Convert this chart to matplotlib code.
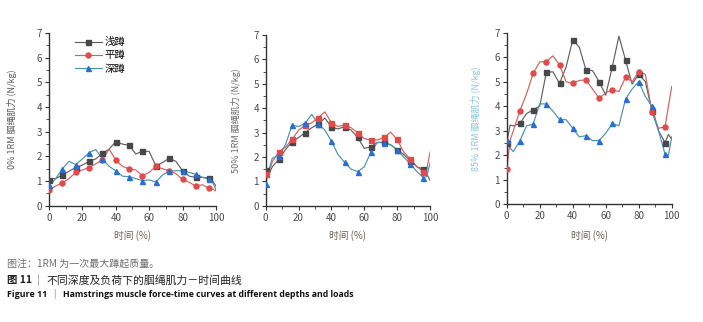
import numpy as np
import matplotlib
matplotlib.use("Agg")
from matplotlib import pyplot as plt
from matplotlib.ticker import MultipleLocator
from matplotlib.lines import Line2D

plt.rcParams['font.family'] = ['Noto Sans CJK SC', 'DejaVu Sans']

# Dados ----------------------------->>>>>
tempo = [0, 2, 4, 8, 12, 16, 20, 24, 28, 32, 36, 40, 44, 48, 52, 56, 60,
         64, 68, 72, 76, 80, 84, 88, 92, 96, 98, 100]
marcas = [0, 8, 16, 24, 32, 40, 48, 56, 64, 72, 80, 88, 96]

rotulos = ['浅蹲', '平蹲', '深蹲']
ylabels = ['0% 1RM 腘绳肌力 (N/kg)', '50% 1RM 腘绳肌力 (N/kg)', '85% 1RM 腘绳肌力 (N/kg)']

# 0% 1RM
raso_0 = [1.05, 1.1, 1.1, 1.25, 1.4, 1.55, 1.65, 1.8, 1.9, 2.12, 2.3, 2.6, 2.5, 2.45,
          2.1, 2.22, 2.2, 1.62, 1.75, 1.93, 1.8, 1.42, 1.2, 1.15, 1.15, 1.12, 1.0, 0.8]
paralelo_0 = [0.65, 0.72, 0.8, 0.93, 1.1, 1.35, 1.45, 1.55, 1.7, 1.85, 2.3, 1.85, 1.6, 1.5,
              1.45, 1.22, 1.35, 1.6, 1.5, 1.42, 1.3, 1.07, 0.95, 0.8, 0.85, 0.7, 0.68, 0.6]
profundo_0 = [0.85, 0.95, 1.1, 1.5, 1.8, 1.67, 1.9, 2.15, 2.28, 1.9, 1.6, 1.42, 1.2, 1.18,
              1.1, 1.02, 1.05, 0.96, 1.25, 1.4, 1.42, 1.42, 1.35, 1.28, 1.15, 1.08, 0.95, 0.65]

# 50% 1RM
raso_50 = [1.46, 1.3, 1.6, 1.9, 2.3, 2.62, 2.8, 3.0, 3.2, 3.35, 3.6, 3.22, 3.15, 3.25,
           3.1, 2.8, 2.35, 2.42, 2.6, 2.6, 2.5, 2.3, 2.1, 1.85, 1.6, 1.5, 1.3, 1.05]
paralelo_50 = [1.3, 1.4, 1.8, 2.22, 2.4, 2.72, 3.1, 3.3, 3.4, 3.62, 3.85, 3.4, 3.25, 3.32,
               3.2, 3.0, 2.75, 2.7, 2.7, 2.8, 3.02, 2.72, 2.2, 1.92, 1.6, 1.4, 1.5, 2.2]
profundo_50 = [0.9, 1.5, 1.95, 2.05, 2.5, 3.3, 3.25, 3.38, 3.75, 3.35, 3.1, 2.65, 2.1, 1.78,
               1.5, 1.4, 1.6, 2.2, 2.6, 2.58, 2.5, 2.3, 2.0, 1.72, 1.4, 1.15, 1.2, 1.75]

# 85% 1RM
raso_85 = [2.49, 3.23, 3.2, 3.3, 3.7, 3.85, 4.0, 5.38, 5.4, 4.93, 5.6, 6.7, 6.4, 5.48,
           5.45, 5.0, 4.45, 5.61, 6.85, 5.88, 4.9, 5.3, 5.0, 3.82, 3.0, 2.52, 2.85, 2.65]
paralelo_85 = [1.43, 2.6, 3.0, 3.82, 4.5, 5.34, 5.8, 5.82, 6.05, 5.68, 5.0, 4.93, 5.05, 5.07,
               4.7, 4.32, 4.55, 4.66, 4.6, 5.17, 5.0, 5.41, 5.3, 3.78, 3.1, 3.17, 4.0, 4.8]
profundo_85 = [2.62, 2.3, 2.15, 2.6, 3.2, 3.27, 4.1, 4.09, 3.8, 3.46, 3.45, 3.1, 2.75, 2.8,
               2.6, 2.6, 2.9, 3.3, 3.2, 4.29, 4.7, 5.0, 4.4, 4.0, 3.0, 2.04, 2.0, 2.75]

paineis = [
    (raso_0, paralelo_0, profundo_0),
    (raso_50, paralelo_50, profundo_50),
    (raso_85, paralelo_85, profundo_85),
]

# Estilos ----------------------------->>>>>
cor_linha = ['#606060', '#d06060', '#4a92ae']
cor_marca = ['#484848', '#e04a4a', '#2a6fcf']
formas = [['s', 'o', '^'], ['s', 's', '^'], ['s', 'o', '^']]
cor_tick = '#4a4a55'
cor_ylabel = ['#5a5a5a', '#6a6a6a', '#8cc4e0']

posicoes = [
    [0.0697, 0.361, 0.2375, 0.536],
    [0.378, 0.361, 0.2337, 0.530],
    [0.7208, 0.365, 0.2347, 0.534],
]
xlabel_x = [0.0697 + 0.2375 / 2, 0.378 + 0.2337 / 2, 0.7208 + 0.2347 / 2]
ylabel_x = [0.017, 0.335, 0.677]

fig = plt.figure(figsize=(7.03, 3.22), dpi=100)
idx_marcas = [tempo.index(m) for m in marcas]

for i, (series, pos) in enumerate(zip(paineis, posicoes)):
    ax = fig.add_axes(pos)
    for j, y in enumerate(series):
        ax.plot(tempo, y, color=cor_linha[j], lw=0.85, zorder=2)
        ax.plot([tempo[k] for k in idx_marcas], [y[k] for k in idx_marcas],
                ls='none', marker=formas[i][j], ms=3.6, color=cor_marca[j], zorder=3)
    ax.set_xlim(0, 100)
    ax.set_ylim(0, 7)
    ax.xaxis.set_major_locator(MultipleLocator(20))
    ax.xaxis.set_minor_locator(MultipleLocator(10))
    ax.yaxis.set_major_locator(MultipleLocator(1))
    ax.yaxis.set_minor_locator(MultipleLocator(0.5))
    for s in ['top', 'right']:
        ax.spines[s].set_visible(False)
    for s in ['left', 'bottom']:
        ax.spines[s].set_color('#333333')
        ax.spines[s].set_linewidth(1.0)
    ax.tick_params(which='major', direction='out', length=3, width=0.8,
                   colors='#333333', labelcolor=cor_tick, labelsize=7, pad=2)
    ax.tick_params(which='minor', direction='out', length=2, width=0.6, colors='#333333')
    fig.text(ylabel_x[i], pos[1] + pos[3] / 2, ylabels[i], rotation=90,
             ha='center', va='center', fontsize=6.5, color=cor_ylabel[i])
    fig.text(xlabel_x[i], 0.27, '时间 (%)', ha='center', va='center',
             fontsize=7, color='#6a5e50')

    if i == 0:
        # legenda com linha + marcador
        handles = [Line2D([0], [0], color=cor_linha[j], lw=0.85, marker=formas[0][j],
                          ms=3.6, mfc=cor_marca[j], mec=cor_marca[j]) for j in range(3)]
        ax.legend(handles, rotulos, loc='upper left', bbox_to_anchor=(0.13, 1.0),
                  frameon=False, fontsize=7.5, handlelength=2.6, handletextpad=0.25,
                  labelspacing=0.3, borderaxespad=0)

# Legenda da figura ----------------------------->>>>>
fig.text(0.01, 0.178, '图注：1RM 为一次最大蹲起质量。', fontsize=7.2, color='#6e6e6e',
         va='center', ha='left')
fig.text(0.01, 0.13, '图 11', fontsize=7.5, color='#222222', va='center', ha='left',
         fontweight='bold')
fig.text(0.054, 0.13, '|', fontsize=7.5, color='#888888', va='center', ha='center')
fig.text(0.066, 0.13, '不同深度及负荷下的腘绳肌力－时间曲线', fontsize=7.8, color='#222222',
         va='center', ha='left')
fig.text(0.01, 0.086, 'Figure 11', fontsize=6.4, color='#111111', va='center', ha='left',
         fontweight='bold', family=['Open Sans', 'Noto Sans CJK SC'])
fig.text(0.077, 0.086, '|', fontsize=6.4, color='#888888', va='center', ha='center')
fig.text(0.09, 0.086, 'Hamstrings muscle force-time curves at different depths and loads',
         fontsize=6.3, color='#111111', va='center', ha='left', fontweight='bold',
         family=['Open Sans', 'Noto Sans CJK SC'])

fig.savefig('out.png', dpi=100)
